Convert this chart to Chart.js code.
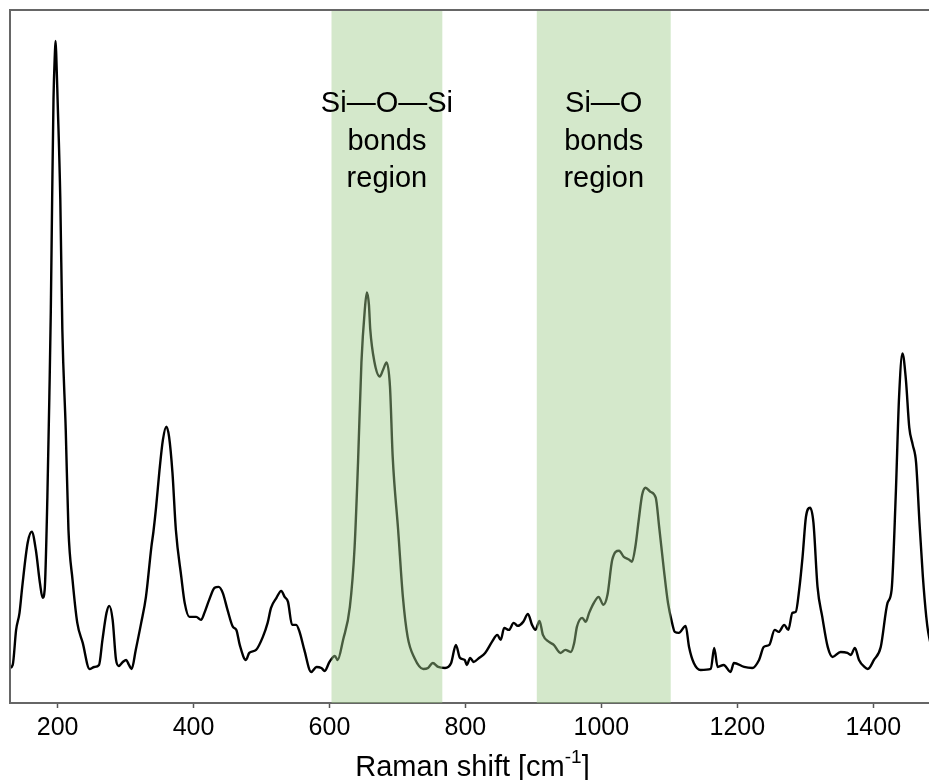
<!DOCTYPE html>
<html>
<head>
<meta charset="utf-8">
<script src="https://cdn.jsdelivr.net/npm/chart.js@4.4.1/dist/chart.umd.min.js"></script>
<style>
  html, body { margin: 0; padding: 0; background: #fff; }
  #wrap { width: 929px; height: 780px; }
</style>
</head>
<body>
<div id="wrap"><canvas id="chart" width="929" height="780"></canvas></div>
<script>
// Raman spectrum (intensity in arbitrary units)
const wavenumber = [
  130,134,139,144,148,156,162,168,174,178,
  181,185,188,190,192,194,196,197,198,200,
  204,207,212,216,222,229,237,247,254,261,
  266,272,276,281,286,290,296,301,305,309,
  315,323,330,338,341,345,350,355,360,364,
  369,374,382,387,394,404,411,416,423,431,
  437,443,450,458,463,468,477,482,492,502,
  509,514,522,529,534,539,545,551,556,563,
  573,581,588,593,600,608,612,620,630,637,
  642,647,652,655,658,660,666,674,679,684,
  689,693,701,708,715,725,738,745,752,760,
  770,779,786,792,799,802,807,812,820,829,
  839,847,852,857,864,871,877,885,892,898,
  903,909,914,923,930,940,947,955,960,964,
  972,977,982,989,996,1003,1009,1016,1026,1033,
  1041,1045,1050,1055,1060,1065,1072,1080,1085,1092,
  1098,1104,1108,1114,1124,1129,1136,1146,1161,1166,
  1171,1180,1190,1195,1210,1222,1232,1239,1247,1255,
  1261,1269,1275,1281,1286,1291,1296,1301,1307,1312,
  1318,1325,1333,1340,1352,1362,1367,1373,1379,1387,
  1392,1401,1411,1421,1427,1433,1438,1443,1448,1453,
  1458,1463,1468,1473,1478,1481,1490
];
const intensity = [
  35,38,73,90,116,160,171,153,120,105,
  113,206,310,390,503,603,648,661,648,603,
  503,373,273,173,123,80,60,34,36,38,
  63,90,97,83,43,37,41,43,38,34,
  53,80,106,156,171,196,233,263,276,266,
  230,173,126,100,86,86,83,90,103,115,
  116,110,93,76,73,58,43,50,53,66,
  80,95,105,112,106,101,78,78,71,53,
  31,36,35,32,41,47,43,63,96,156,
  240,340,393,410,398,373,341,326,333,340,
  316,246,173,106,66,45,34,35,40,36,
  35,40,58,45,43,38,45,41,45,50,
  61,68,63,75,73,80,77,81,89,78,
  73,82,68,61,58,50,53,51,60,76,
  85,81,90,100,106,98,108,143,152,146,
  143,141,156,183,208,215,211,205,176,133,
  100,80,71,70,77,56,40,33,34,55,
  36,38,31,40,36,35,43,56,58,73,
  71,78,73,90,91,113,146,186,195,180,
  116,86,56,46,51,50,48,55,43,36,
  34,43,56,100,113,206,306,349,323,275,
  258,240,180,126,86,70,45
];

// shaded regions and their labels
const bandStart = [603, 905];
const bandEnd = [766, 1102];
const bandLabels = [['Si—O—Si', 'bonds', 'region'], ['Si—O', 'bonds', 'region']];

const xTicks = [200, 400, 600, 800, 1000, 1200, 1400];
const xTitle = 'Raman shift [cm';
const xTitleSup = '-1';
const xTitleEnd = ']';

const FONT = '"Liberation Sans", Arial, Helvetica, sans-serif';

const points = wavenumber.map((w, i) => ({ x: w, y: intensity[i] }));

const regionPlugin = {
  id: 'regions',
  afterDatasetsDraw(chart) {
    const { ctx, chartArea, scales } = chart;
    ctx.save();
    ctx.fillStyle = 'rgba(160, 205, 140, 0.45)';
    bandStart.forEach((s, i) => {
      const x0 = scales.x.getPixelForValue(s);
      const x1 = scales.x.getPixelForValue(bandEnd[i]);
      ctx.fillRect(x0, chartArea.top, x1 - x0, chartArea.bottom - chartArea.top);
    });
    ctx.restore();
  },
  afterDraw(chart) {
    const { ctx, chartArea, scales } = chart;
    ctx.save();
    // frame: top and left edges (right side is cut off in the original)
    ctx.strokeStyle = '#666';
    ctx.lineWidth = 2;
    ctx.beginPath();
    ctx.moveTo(chartArea.left, chartArea.bottom);
    ctx.lineTo(chartArea.left, chartArea.top);
    ctx.lineTo(chartArea.right + 5, chartArea.top);
    ctx.stroke();

    // region labels
    ctx.fillStyle = '#000';
    ctx.font = '29px ' + FONT;
    ctx.textAlign = 'center';
    ctx.textBaseline = 'middle';
    const y0 = scales.y.getPixelForValue(598);
    bandLabels.forEach((lines, i) => {
      const cx = scales.x.getPixelForValue((bandStart[i] + bandEnd[i]) / 2);
      lines.forEach((t, j) => ctx.fillText(t, cx, y0 + j * 37.5));
    });

    // x axis title with superscript
    const big = '29px ' + FONT, small = '19px ' + FONT;
    ctx.font = big;
    const w1 = ctx.measureText(xTitle).width;
    const w3 = ctx.measureText(xTitleEnd).width;
    ctx.font = small;
    const w2 = ctx.measureText(xTitleSup).width;
    const total = w1 + w2 + w3;
    let x = (chartArea.left + chartArea.right) / 2 - total / 2 + 3;
    const base = 776;
    ctx.textAlign = 'left';
    ctx.textBaseline = 'alphabetic';
    ctx.font = big;
    ctx.fillText(xTitle, x, base);
    x += w1;
    ctx.font = small;
    ctx.fillText(xTitleSup, x, base - 13);
    x += w2;
    ctx.font = big;
    ctx.fillText(xTitleEnd, x, base);
    ctx.restore();
  }
};

new Chart(document.getElementById('chart'), {
  type: 'line',
  data: {
    datasets: [{
      data: points,
      borderColor: '#000',
      borderWidth: 2.4,
      pointRadius: 0,
      fill: false,
      cubicInterpolationMode: 'monotone'
    }]
  },
  options: {
    responsive: false,
    animation: false,
    layout: { padding: { left: 10, top: 10, right: 0, bottom: 32 } },
    plugins: { legend: { display: false }, tooltip: { enabled: false } },
    scales: {
      x: {
        type: 'linear',
        min: 130,
        max: 1482,
        afterBuildTicks: axis => { axis.ticks = xTicks.map(v => ({ value: v })); },
        ticks: {
          font: { family: FONT, size: 25 },
          color: '#000',
          padding: 5,
          maxRotation: 0,
          callback: v => String(v)
        },
        grid: {
          display: true,
          drawOnChartArea: false,
          drawTicks: true,
          tickLength: 5,
          tickColor: '#555',
          tickWidth: 1.5
        },
        border: { display: true, color: '#666', width: 2 }
      },
      y: {
        display: false,
        min: 0,
        max: 692
      }
    }
  },
  plugins: [regionPlugin]
});
</script>
</body>
</html>
